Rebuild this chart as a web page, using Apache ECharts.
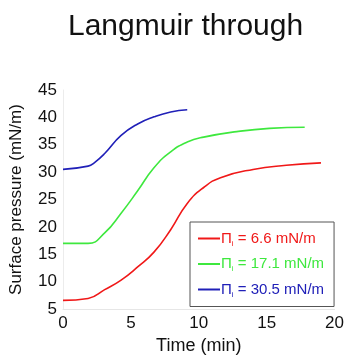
<!DOCTYPE html>
<html>
<head>
<meta charset="utf-8">
<script src="https://cdn.jsdelivr.net/npm/echarts@6/dist/echarts.min.js"></script>
<style>
  html, body { margin: 0; padding: 0; background: #fff; }
  #chart { width: 347px; height: 360px; }
</style>
</head>
<body>
<div id="chart"></div>
<script>
// data (time in min, pressure in mN/m)
var timeRed   = [0, 1.85, 3.07, 4.28, 5.5, 6.7, 7.93, 9.15, 10.36, 11.6, 14, 16.45, 19];
var valueRed  = [6.6, 6.95, 8.55, 10.3, 12.7, 15.4, 19.5, 24.3, 27.2, 29.0, 30.5, 31.25, 31.7];
var timeGreen  = [0, 1.85, 3.07, 4.28, 5.5, 6.7, 7.93, 9.15, 10.36, 12.8, 15.2, 17.8];
var valueGreen = [17.0, 17.0, 18.9, 22.5, 26.6, 30.8, 33.7, 35.5, 36.4, 37.4, 38.0, 38.2];
var timeBlue  = [0, 1.85, 2.3, 3.07, 4.28, 5.5, 6.7, 7.93, 9.15];
var valueBlue = [30.5, 31.1, 31.7, 33.4, 36.7, 38.8, 40.1, 41.0, 41.4];
var seriesNames = ['6.6 mN/m', '17.1 mN/m', '30.5 mN/m'];
var seriesColors = ['#f01818', '#3ee83e', '#2020b8'];
var yTicks = [5, 10, 15, 20, 25, 30, 35, 40, 45];
var xTicks = [0, 5, 10, 15, 20];

function pairs(t, v) {
  return t.map(function (x, i) { return [x, v[i]]; });
}

var chart = echarts.init(document.getElementById('chart'));
var font = 'Liberation Sans';
var keys = ['r', 'g', 'b'];
var rich = {};
keys.forEach(function (k, i) {
  rich[k] = { color: seriesColors[i], fontSize: 15, fontFamily: font };
  rich[k + 's'] = { color: seriesColors[i], fontSize: 8, fontFamily: font, padding: [10, 0, 0, 0] };
});

function line(name, t, v, color) {
  return {
    name: name,
    type: 'line',
    data: pairs(t, v),
    smooth: 0.5,
    showSymbol: false,
    lineStyle: { color: color, width: 1.6 },
    itemStyle: { color: color }
  };
}

chart.setOption({
  animation: false,
  title: {
    text: 'Langmuir through',
    left: 63,
    top: 7,
    textStyle: { fontFamily: font, fontSize: 30, fontWeight: 'normal', color: '#111' }
  },
  grid: { left: 63, right: 10, top: 90, bottom: 45 },
  xAxis: {
    type: 'value',
    min: xTicks[0],
    max: xTicks[xTicks.length - 1],
    interval: 5,
    name: 'Time (min)',
    nameLocation: 'middle',
    nameGap: 22,
    nameTextStyle: { fontFamily: font, fontSize: 18, color: '#111' },
    axisLine: { show: true, lineStyle: { color: '#e6e6e6' } },
    axisTick: { show: false },
    splitLine: { show: false },
    axisLabel: { fontFamily: font, fontSize: 17, color: '#111', margin: 6 }
  },
  yAxis: {
    type: 'value',
    min: yTicks[0],
    max: yTicks[yTicks.length - 1],
    interval: 5,
    name: 'Surface pressure (mN/m)',
    nameLocation: 'middle',
    nameGap: 38,
    nameTextStyle: { fontFamily: font, fontSize: 17, color: '#111' },
    axisLine: { show: true, lineStyle: { color: '#ececec' } },
    axisTick: { show: false },
    splitLine: { show: false },
    axisLabel: { fontFamily: font, fontSize: 17, color: '#111', margin: 6 }
  },
  legend: {
    orient: 'vertical',
    left: 190,
    top: 222,
    padding: [9, 10, 8, 8],
    itemGap: 9,
    itemWidth: 22,
    itemHeight: 2,
    icon: 'rect',
    borderColor: '#555',
    borderWidth: 1,
    data: seriesNames,
    formatter: function (name) {
      var k = keys[seriesNames.indexOf(name)];
      return '{' + k + '|Π}{' + k + 's|i}{' + k + '| = ' + name + '}';
    },
    textStyle: { fontFamily: font, fontSize: 15, padding: [0, 0, 0, -4], rich: rich }
  },
  series: [
    line(seriesNames[0], timeRed, valueRed, seriesColors[0]),
    line(seriesNames[1], timeGreen, valueGreen, seriesColors[1]),
    line(seriesNames[2], timeBlue, valueBlue, seriesColors[2])
  ]
});
</script>
</body>
</html>
